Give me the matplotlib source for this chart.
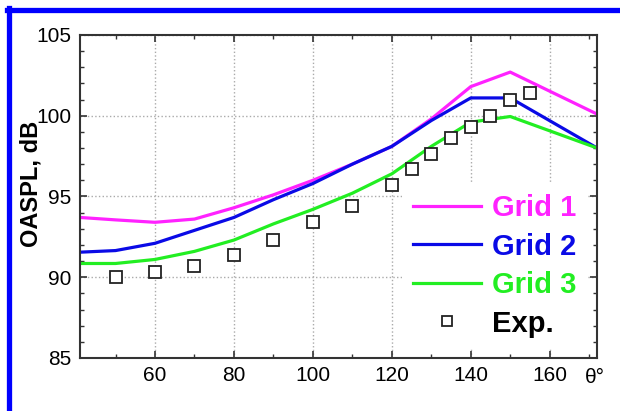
import matplotlib
matplotlib.use("Agg")
import matplotlib.pyplot as plt
from matplotlib.ticker import MultipleLocator
from matplotlib.lines import Line2D

plt.rcParams['font.family'] = ['Liberation Sans', 'DejaVu Sans']

theta_line = [41, 50, 60, 70, 80, 90, 100, 110, 120, 130, 140, 150, 172]
grid1 = [93.7, 93.55, 93.4, 93.6, 94.3, 95.1, 96.0, 97.0, 98.1, 99.8, 101.8, 102.7, 100.1]
grid2 = [91.55, 91.65, 92.1, 92.9, 93.7, 94.8, 95.8, 97.0, 98.1, 99.7, 101.1, 101.1, 98.0]
grid3 = [90.85, 90.85, 91.1, 91.6, 92.3, 93.3, 94.2, 95.2, 96.4, 98.1, 99.6, 99.95, 98.0]

theta_exp = [50, 60, 70, 80, 90, 100, 110, 120, 125, 130, 135, 140, 145, 150, 155]
exp_vals = [90.0, 90.3, 90.7, 91.4, 92.3, 93.4, 94.4, 95.7, 96.7, 97.6, 98.6, 99.3, 100.0, 101.0, 101.4]

labels = ["Grid 1", "Grid 2", "Grid 3", "Exp."]
colors = ["#ff22ff", "#0a0ae6", "#22ee22", "black"]

fig = plt.figure(figsize=(6.2, 4.11), dpi=100)
ax = fig.add_axes([0.129, 0.129, 0.834, 0.786])

l1, = ax.plot(theta_line, grid1, color=colors[0], lw=2.3, label=labels[0])
l2, = ax.plot(theta_line, grid2, color=colors[1], lw=2.3, label=labels[1])
l3, = ax.plot(theta_line, grid3, color=colors[2], lw=2.3, label=labels[2])
l4, = ax.plot(theta_exp, exp_vals, ls='none', marker='s', ms=8.3, mfc='white',
              mec='#222222', mew=1.3, label=labels[3])

ax.set_xlim(41, 172)
ax.set_ylim(85, 105)
ax.xaxis.set_major_locator(MultipleLocator(20))
ax.xaxis.set_minor_locator(MultipleLocator(10))
ax.yaxis.set_major_locator(MultipleLocator(5))
ax.yaxis.set_minor_locator(MultipleLocator(1))
ax.tick_params(which='both', direction='in', top=True, right=True, color='#333333')
ax.tick_params(which='major', length=5, width=1.2, labelsize=15, pad=6)
ax.tick_params(which='minor', length=3, width=1.0)
ax.grid(True, which='major', ls=':', color='#aaaaaa', lw=1.0)
for s in ax.spines.values():
    s.set_linewidth(1.5)
    s.set_color('#333333')

ax.set_ylabel("OASPL, dB", fontsize=17, fontweight='bold')
ax.yaxis.set_label_coords(-0.072, 0.54)
ax.text(0.977, -0.032, "θ°", transform=ax.transAxes, fontsize=15, ha='left', va='top')

handles = [l1, l2, l3,
           Line2D([], [], ls='none', marker='s', ms=6.5, mfc='white', mec='#222222', mew=1.3)]
leg = ax.legend(handles, labels, loc='lower right', bbox_to_anchor=(1.0, 0.0),
                prop={'weight': 'bold', 'size': 21},
                handlelength=2.33, handletextpad=0.38, labelspacing=0.36,
                frameon=True, facecolor='white', edgecolor='none', framealpha=1,
                borderaxespad=0.3, borderpad=0.4)
for t, c in zip(leg.get_texts(), colors):
    t.set_color(c)

fig.add_artist(Line2D([7/620, 1.0], [1 - 10.5/411, 1 - 10.5/411], color='#0000ff', lw=3.8,
                      transform=fig.transFigure))
fig.add_artist(Line2D([9/620, 9/620], [0, 1 - 8/411], color='#0000ff', lw=3.8,
                      transform=fig.transFigure))

fig.savefig("out.png", dpi=100)
